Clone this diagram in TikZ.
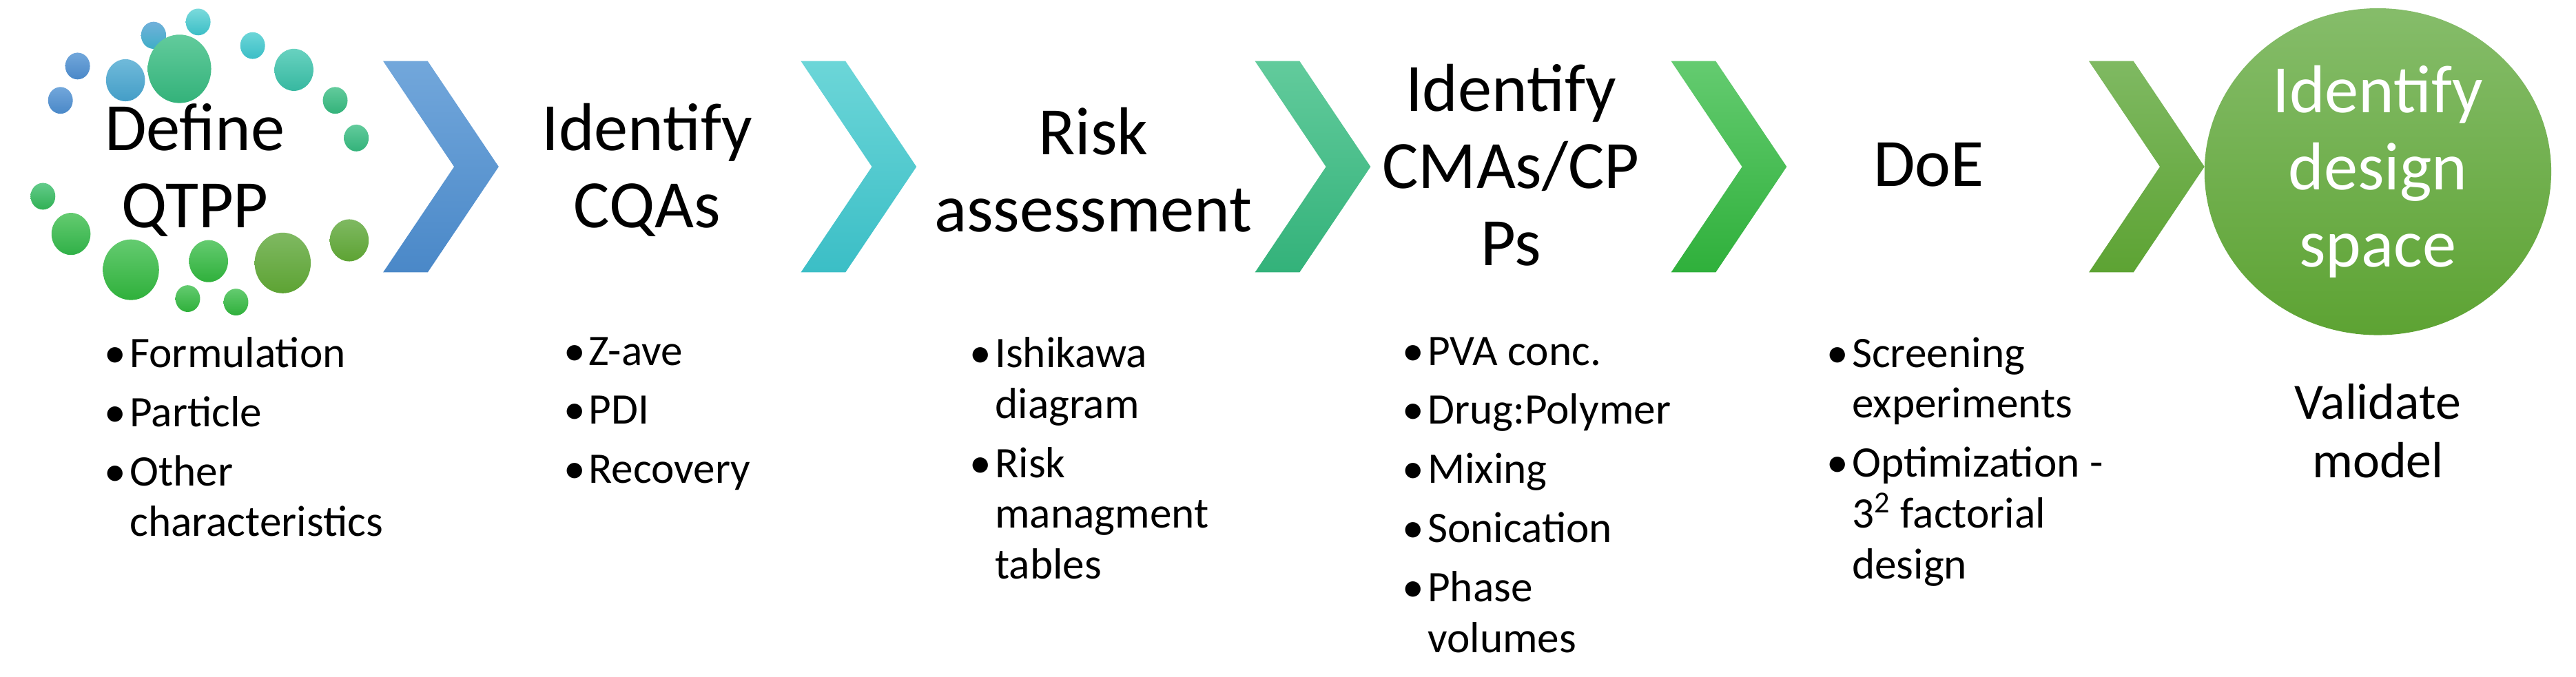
\documentclass[tikz,border=0pt]{standalone}
\usepackage{fontspec}
\setmainfont{Carlito}
\begin{document}
\begin{tikzpicture}[x=0.02397cm,y=-0.02397cm,
  title/.style={font=\fontsize{28}{32}\selectfont,align=center,inner sep=0pt},
  lst/.style={font=\fontsize{18}{21}\selectfont,align=left,anchor=north west,inner sep=0pt},
  bub/.style={shading=axis,shading angle=0}]
\useasboundingbox (0,0) rectangle (1560,410);
\newcommand{\chev}[4]{%
  \shade[top color=#2,bottom color=#3] (#1,37) -- (#1+27,37) -- (#1+70,101) -- (#1+27,165) -- (#1,165) -- (#1+43,101) -- cycle;
  \coordinate (#4) at (#1+35,101);}
\definecolor{cb1}{HTML}{72A7DB}\definecolor{cb2}{HTML}{4A88C8}
\definecolor{cc1}{HTML}{6CD6D8}\definecolor{cc2}{HTML}{3BBEC6}
\definecolor{ct1}{HTML}{62CB9C}\definecolor{ct2}{HTML}{33B27A}
\definecolor{cg1}{HTML}{64CB70}\definecolor{cg2}{HTML}{2FB03B}
\definecolor{co1}{HTML}{7FB962}\definecolor{co2}{HTML}{5DA333}
\chev{232}{cb1}{cb2}{ch1}
\chev{485}{cc1}{cc2}{ch2}
\chev{760}{ct1}{ct2}{ch3}
\chev{1012}{cg1}{cg2}{ch4}
\chev{1265}{co1}{co2}{ch5}
% bubbles
\newcommand{\bbx}[5]{\shade[top color=#4,bottom color=#5] (#1,#2) ellipse [x radius=#3, y radius=#3*1.08];}
\bbx{120}{13.3}{7.5}{cc1!90!white}{cc2}
\bbx{93}{21.4}{7.6}{cb1!80!cc1}{cc2!70!cb2}
\bbx{153}{27.6}{7.5}{cc1}{cc2}
\bbx{47}{40}{7.5}{cb1}{cb2}
\bbx{76}{48.6}{11.8}{cb1!60!cc1}{cb2!60!cc2}
\bbx{108.7}{41.7}{19.2}{ct1}{ct2}
\bbx{178}{42.3}{11.8}{cc1!60!ct1}{cc2!50!ct2}
\bbx{36.6}{60.8}{7.5}{cb1}{cb2}
\bbx{203}{60.8}{7.5}{ct1}{ct2}
\bbx{215.8}{83.6}{7.5}{ct1}{ct2}
\bbx{26}{118.9}{7.5}{ct1!60!cg1}{cg2!60!ct2}
\bbx{43}{141.7}{11.8}{cg1}{cg2!80!ct2}
\bbx{79.3}{163.4}{17}{cg1}{cg2}
\bbx{126.3}{158.2}{11.8}{cg1}{cg2}
\bbx{171.2}{159.3}{17}{co1}{co2}
\bbx{211.5}{145.6}{11.8}{co1}{co2}
\bbx{113.7}{180.9}{7.5}{cg1}{cg2}
\bbx{142.9}{183}{7.5}{cg1}{cg2}
% ellipse
\shade[top color=co1!95!white,bottom color=co2] (1440,104) ellipse [x radius=105, y radius=99];
\node[title,text=white] (ds) at (1440,104) {Identify\\design\\space};
% titles
\node[title] (t1) at (118,103) {Define\\QTPP};
\node[title] (t2) at (392,103) {Identify\\CQAs};
\node[title] (t3) at (662,103) {Risk\\assessment};
\node[title] (t4) at (915,100) {Identify\\CMAs/CP\\Ps};
\node[title] (t5) at (1168,100) {DoE};
% lists
\newcommand{\iix}[1]{\makebox[0.58em][l]{•}#1}
\newcommand{\ccx}[1]{\hspace*{0.58em}#1}
\node[lst] (l1) at (63,204) {\iix{Formulation}\\[3.4pt]\iix{Particle}\\[3.4pt]\iix{Other}\\\ccx{characteristics}};
\node[lst] (l2) at (341,204) {\iix{Z-ave}\\[3.4pt]\iix{PDI}\\[3.4pt]\iix{Recovery}};
\node[lst] (l3) at (587,204) {\iix{Ishikawa}\\\ccx{diagram}\\[3.4pt]\iix{Risk}\\\ccx{managment}\\\ccx{tables}};
\node[lst] (l4) at (849,204) {\iix{PVA conc.}\\[3.4pt]\iix{Drug:Polymer}\\[3.4pt]\iix{Mixing}\\[3.4pt]\iix{Sonication}\\[3.4pt]\iix{Phase}\\\ccx{volumes}};
\node[lst] (l5) at (1106,204) {\iix{Screening}\\\ccx{experiments}\\[3.4pt]\iix{Optimization -}\\\ccx{3\textsuperscript{2} factorial}\\\ccx{design}};
\node[font=\fontsize{21}{24}\selectfont,align=center,inner sep=0pt] (vm) at (1440,261) {Validate\\model};
\end{tikzpicture}
\end{document}
